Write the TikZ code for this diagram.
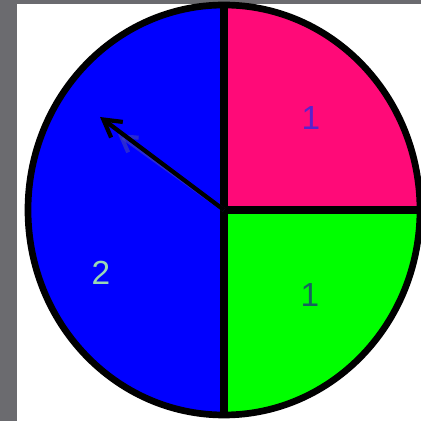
\documentclass[tikz,border=0pt]{standalone}
\usepackage{fontspec}
\setsansfont{Liberation Sans}
\usetikzlibrary{arrows.meta,calc}
\definecolor{spinBlue}{HTML}{0000FF}
\definecolor{spinPink}{HTML}{FF0A78}
\definecolor{spinGreen}{HTML}{00FF00}
\definecolor{frameGray}{HTML}{6B6B6F}
\definecolor{numPurple}{HTML}{5A22CC}
\definecolor{numTeal}{HTML}{17625E}
\definecolor{numMint}{HTML}{9AD8B4}
\tikzset{
  rim/.style={draw=black,line width=3.8pt},
  divider/.style={draw=black,line width=4.5pt},
  pointer/.style={-{Straight Barb[length=3.4mm,width=3.9mm]},line width=2.4pt,draw=black},
  ghost/.style={-{Straight Barb[length=3mm,width=3.6mm]},line width=2.3pt,draw=gray!60!spinBlue,opacity=0.55},
  digit/.style={font=\sffamily\fontsize{19}{22}\selectfont,inner sep=0pt}
}

\begin{document}
\begin{tikzpicture}[x=0.2mm,y=0.2mm]
  \useasboundingbox (0,0) rectangle (421,421);
  \clip (0,0) rectangle (421,421);
  \fill[white] (0,0) rectangle (421,421);
  \fill[frameGray] (0,0) rectangle (17,421);
  \fill[frameGray] (0,417) rectangle (421,421);

  \coordinate (hub) at (224,211);
  \coordinate (tip) at (100,304);
  \coordinate (shade) at (118,287);

  % sectors
  \fill[spinBlue] (hub) -- ++(0,205) arc[start angle=90,end angle=270,x radius=196,y radius=205] -- cycle;
  \fill[spinPink] (hub) -- ++(196,0) arc[start angle=0,end angle=90,x radius=196,y radius=205] -- cycle;
  \fill[spinGreen] (hub) -- ++(0,-205) arc[start angle=270,end angle=360,x radius=196,y radius=205] -- cycle;

  \draw[divider] ($(hub)+(0,205)$) -- ($(hub)+(0,-205)$);
  \draw[divider] (hub) -- ++(196,0);
  \draw[rim] (hub) ellipse[x radius=196,y radius=205];

  \node[digit,text=numPurple] (pinkval) at (311,303) {1};
  \node[digit,text=numTeal] (greenval) at (310,126) {1};
  \node[digit,text=numMint] (blueval) at (101,148) {2};

  \draw[ghost] (hub) -- (shade);
  \draw[pointer] (hub) -- (tip);
\end{tikzpicture}
\end{document}
